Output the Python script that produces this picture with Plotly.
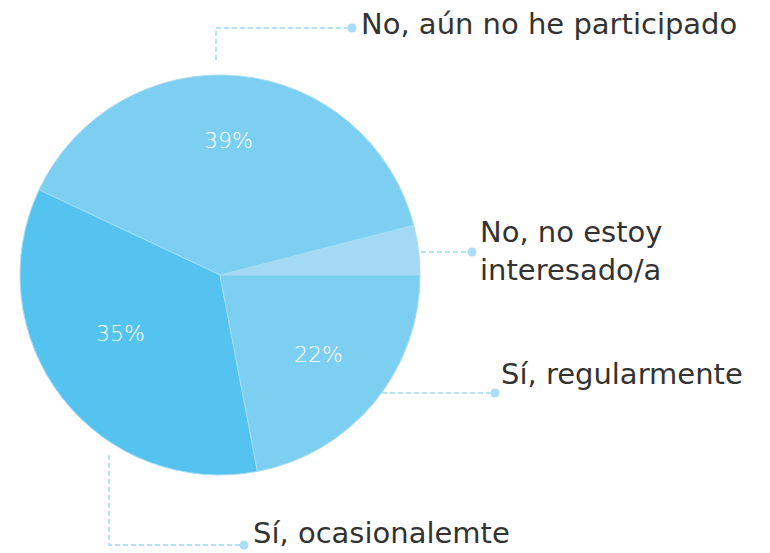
import plotly.graph_objects as go

# survey answers, counter-clockwise from 3 o'clock
labels = ['No, no estoy<br>interesado/a', 'No, aún no he participado', 'Sí, ocasionalemte', 'Sí, regularmente']
values = [4, 39, 35, 22]
colors = ['#a3d9f3', '#7dcff1', '#55c3ef', '#7dcff1']

# page has an 8px body margin, so the figure is a bit smaller than the window
OFF = 8
W, H = 770 - OFF, 553 - OFF
cx, cy, r = 220, 275, 200
font = 'DejaVu Sans'
txt = '#333333'
lead = '#b5e3f8'

fig = go.Figure()

fig.add_trace(go.Pie(
    labels=labels,
    values=values,
    textinfo='none',
    marker=dict(colors=colors, line=dict(color='#a6dcf4', width=1)),
    sort=False,
    direction='counterclockwise',
    rotation=90 - 360 * values[0] / sum(values),
    hoverinfo='label+percent',
    domain=dict(x=[(cx - r - OFF) / W, (cx + r - OFF) / W],
                y=[(553 - cy - r) / H, (553 - cy + r) / H]),
))

# percentage labels inside the slices (small slice has none)
pct_pos = [None, (228, 140), (120, 333), (318, 354)]
for v, pos in zip(values, pct_pos):
    if pos is None:
        continue
    fig.add_annotation(x=pos[0], y=pos[1], xref='x', yref='y', text=f'{v}%',
                       showarrow=False, xanchor='center', yanchor='middle',
                       font=dict(family=font, size=22, color='white', weight=300))

# leader lines: (path points, label position, label)
leaders = [
    ([(216, 60), (216, 28), (352, 28)], (359, 24), labels[1]),
    ([(421, 252), (472, 252)], (478, 251), labels[0]),
    ([(382, 393), (495, 393)], (499, 374), labels[3]),
    ([(109, 455), (109, 545), (244, 545)], (251, 533), labels[2]),
]

for pts, (tx, ty), lab in leaders:
    xs = [p[0] for p in pts]
    ys = [p[1] for p in pts]
    fig.add_trace(go.Scatter(x=xs, y=ys, mode='lines', hoverinfo='skip',
                             line=dict(color=lead, width=2, dash='5px,3px')))
    fig.add_trace(go.Scatter(x=[xs[-1]], y=[ys[-1]], mode='markers', hoverinfo='skip',
                             marker=dict(color='#a9def6', size=9)))
    fig.add_annotation(x=tx, y=ty, xref='x', yref='y', text=lab, showarrow=False,
                       xanchor='left', yanchor='middle', align='left',
                       font=dict(family=font, size=29, color=txt))

fig.update_layout(
    width=W, height=H,
    margin=dict(l=0, r=0, t=0, b=0),
    showlegend=False,
    paper_bgcolor='white',
    plot_bgcolor='rgba(0,0,0,0)',
    xaxis=dict(range=[OFF, 770], visible=False, fixedrange=True),
    yaxis=dict(range=[553, OFF], visible=False, fixedrange=True),
)

fig.write_html("out.html")
